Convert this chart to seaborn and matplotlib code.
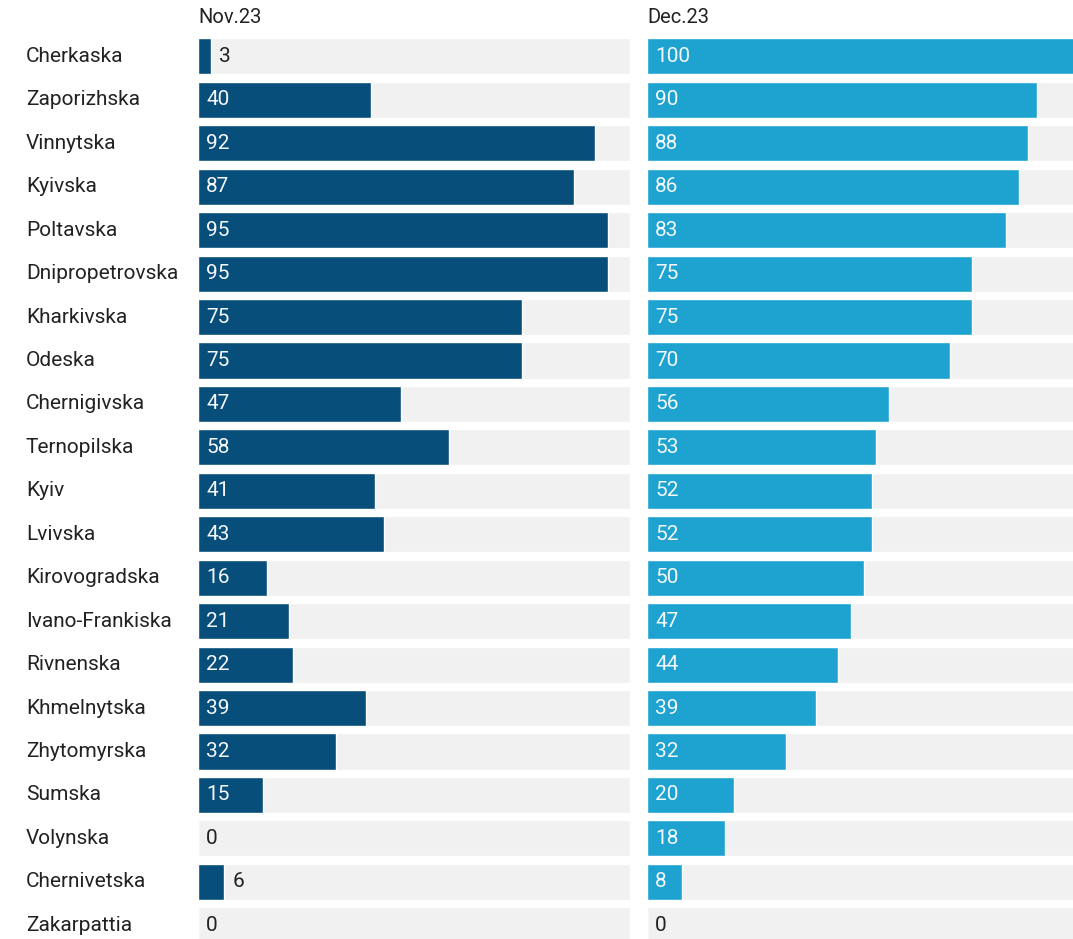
import matplotlib
matplotlib.use("Agg")
import matplotlib.pyplot as plt
import seaborn as sns
import pandas as pd

regions = ["Cherkaska", "Zaporizhska", "Vinnytska", "Kyivska", "Poltavska",
           "Dnipropetrovska", "Kharkivska", "Odeska", "Chernigivska", "Ternopilska",
           "Kyiv", "Lvivska", "Kirovogradska", "Ivano-Frankiska", "Rivnenska",
           "Khmelnytska", "Zhytomyrska", "Sumska", "Volynska", "Chernivetska",
           "Zakarpattia"]
nov23 = [3, 40, 92, 87, 95, 95, 75, 75, 47, 58, 41, 43, 16, 21, 22, 39, 32, 15, 0, 6, 0]
dec23 = [100, 90, 88, 86, 83, 75, 75, 70, 56, 53, 52, 52, 50, 47, 44, 39, 32, 20, 18, 8, 0]
full_scale = [100] * len(regions)

sns.set_theme(style="white")
plt.rcParams["font.family"] = ["Roboto", "DejaVu Sans"]

W, H = 1073, 939
fig = plt.figure(figsize=(W / 100, H / 100), dpi=100)

row_h = 43.45
top = 34.6
n = len(regions)
bottom_px = top + row_h * n
FS = 15

def add_panel(x0, x1):
    return fig.add_axes([x0 / W, 1 - bottom_px / H, (x1 - x0) / W, (bottom_px - top) / H])

panels = [
    (add_panel(198, 630), nov23, "#084e7a", "Nov.23"),
    (add_panel(647, 1080), dec23, "#1ea3d1", "Dec.23"),
]

df_bg = pd.DataFrame({"region": regions, "value": full_scale})

for ax, values, color, title in panels:
    df = pd.DataFrame({"region": regions, "value": values})
    sns.barplot(data=df_bg, x="value", y="region", orient="h", color="#f1f1f1",
                width=0.83, saturation=1, ax=ax)
    sns.barplot(data=df, x="value", y="region", orient="h", color=color,
                width=0.83, saturation=1, ax=ax)
    ax.set_xlim(0, 100)
    ax.set_ylim(n - 0.5, -0.5)
    ax.set_xlabel("")
    ax.set_ylabel("")
    ax.set_xticks([])
    ax.set_yticks([])
    for s in ax.spines.values():
        s.set_visible(False)
    ax.set_facecolor("none")
    for i, v in enumerate(values):
        if v >= 7:
            ax.text(1.9, i, f"{v}", color="#f4f8fb", va="center", ha="left", fontsize=FS)
        elif v > 0:
            ax.text(v + 1.9, i, f"{v}", color="#222222", va="center", ha="left", fontsize=FS)
        else:
            ax.text(1.9, i, f"{v}", color="#222222", va="center", ha="left", fontsize=FS)
    ax.text(0, -0.9, title, va="center", ha="left", fontsize=FS - 0.5, color="#222222")

for i, r in enumerate(regions):
    fig.text(26 / W, 1 - (top + row_h * (i + 0.5)) / H, r, va="center", ha="left",
             fontsize=FS, color="#222222")

fig.savefig("out.png", dpi=100, facecolor="white")
